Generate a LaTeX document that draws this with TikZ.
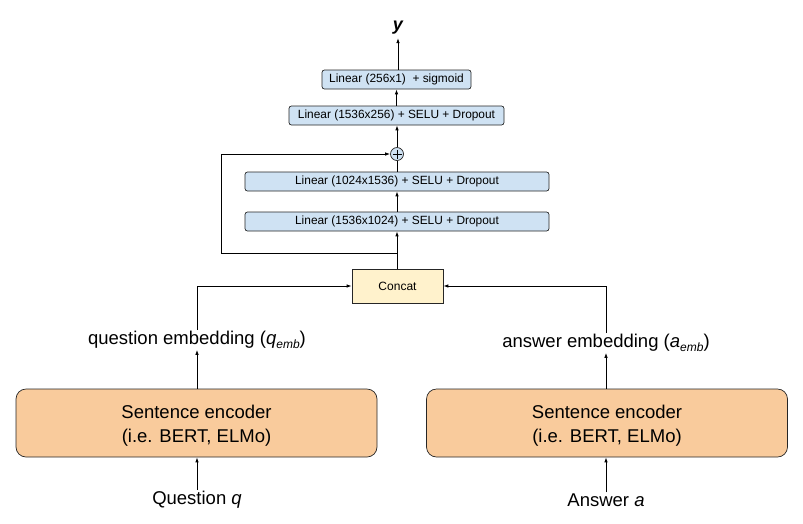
\documentclass[tikz,border=0pt]{standalone}
\usepackage{fontspec}
\setmainfont{Liberation Sans}
\usetikzlibrary{arrows.meta,calc}
\definecolor{lblue}{HTML}{CFE2F3}
\definecolor{lorange}{HTML}{F9CB9C}
\definecolor{lyellow}{HTML}{FFF2CC}
\begin{document}
\begin{tikzpicture}[x=1pt,y=-1pt,
  arr/.style={-{Latex[length=5pt,width=3.5pt]},line width=0.8pt},
  lin/.style={line width=0.8pt},
  layerbox/.style={draw=black!85,line width=0.7pt,fill=lblue,rounded corners=2.5pt,font=\fontsize{11.9}{13}\selectfont,inner sep=0pt,minimum height=19pt},
  encbox/.style={draw=black!85,line width=0.7pt,fill=lorange,rounded corners=10pt,font=\fontsize{18.5}{24}\selectfont,align=center,minimum width=361pt,minimum height=68pt,inner sep=0pt},
  lab/.style={font=\fontsize{18.5}{21}\selectfont,inner sep=1pt}]
\useasboundingbox (0,0) rectangle (803,523);
\node[font=\fontsize{18}{20}\selectfont\bfseries\itshape] (y) at (398,28) {y};
\node[layerbox,minimum width=149pt] (l1) at (396.5,79.5) {Linear (256x1)\ \ + sigmoid};
\node[layerbox,minimum width=215pt] (l2) at (396.5,115.5) {Linear (1536x256) + SELU + Dropout};
\node[draw=black!85,line width=0.7pt,fill=lblue,circle,minimum size=13pt,inner sep=0pt] (plus) at (397,154) {};
\draw[line width=0.7pt] ($(plus.center)+(-4.5,0)$) -- ($(plus.center)+(4.5,0)$);
\draw[line width=0.7pt] ($(plus.center)+(0,-4.5)$) -- ($(plus.center)+(0,4.5)$);
\node[layerbox,minimum width=304pt] (l3) at (397,181.5) {Linear (1024x1536) + SELU + Dropout};
\node[layerbox,minimum width=304pt] (l4) at (397,221.5) {Linear (1536x1024) + SELU + Dropout};
\node[draw=black!85,line width=0.7pt,fill=lyellow,minimum width=91pt,minimum height=34pt,inner sep=0pt,font=\fontsize{12}{14}\selectfont] (concat) at (397.5,286) {Concat};
\node[lab] (qe) at (197,340) {question embedding (\textit{q\raisebox{-0.35ex}{\fontsize{12}{12}\selectfont emb}})};
\node[lab] (ae) at (606,343) {answer embedding (\textit{a\raisebox{-0.35ex}{\fontsize{12}{12}\selectfont emb}})};
\node[encbox] (encq) at (196.5,423) {\rule{0pt}{19.5pt}Sentence encoder\\(i.e. BERT, ELMo)};
\node[encbox] (enca) at (607,423) {\rule{0pt}{19.5pt}Sentence encoder\\(i.e. BERT, ELMo)};
\node[lab] (q) at (197,500) {Question \textit{q}};
\node[lab] (a) at (606,500) {Answer \textit{a}};
\coordinate (sk1) at (397,253);
\coordinate (sk2) at (221,253);
\coordinate (sk3) at (221,154);
\draw[arr] (l1.north -| y) -- (y.south);
\draw[arr] (l2.north -| l1) -- (l1.south);
\draw[arr] (plus.north) -- (l2.south -| plus);
\draw[lin] (l3.north -| plus) -- (plus.south);
\draw[arr] (l4.north -| plus) -- (l3.south -| plus);
\draw[arr] (concat.north -| plus) -- (l4.south -| plus);
\draw[arr] (sk1) -- (sk2) -- (sk3) -- (plus.west);
\draw[arr] (qe.north -| 197,0) |- (concat.west);
\draw[arr] (ae.north -| 606,0) |- (concat.east);
\draw[arr] (encq.north -| 197,0) -- (qe.south -| 197,0);
\draw[arr] (enca.north -| 606,0) -- (ae.south -| 606,0);
\draw[arr] (q.north -| 197,0) -- (encq.south -| 197,0);
\draw[arr] (a.north -| 606,0) -- (enca.south -| 606,0);
\end{tikzpicture}
\end{document}
